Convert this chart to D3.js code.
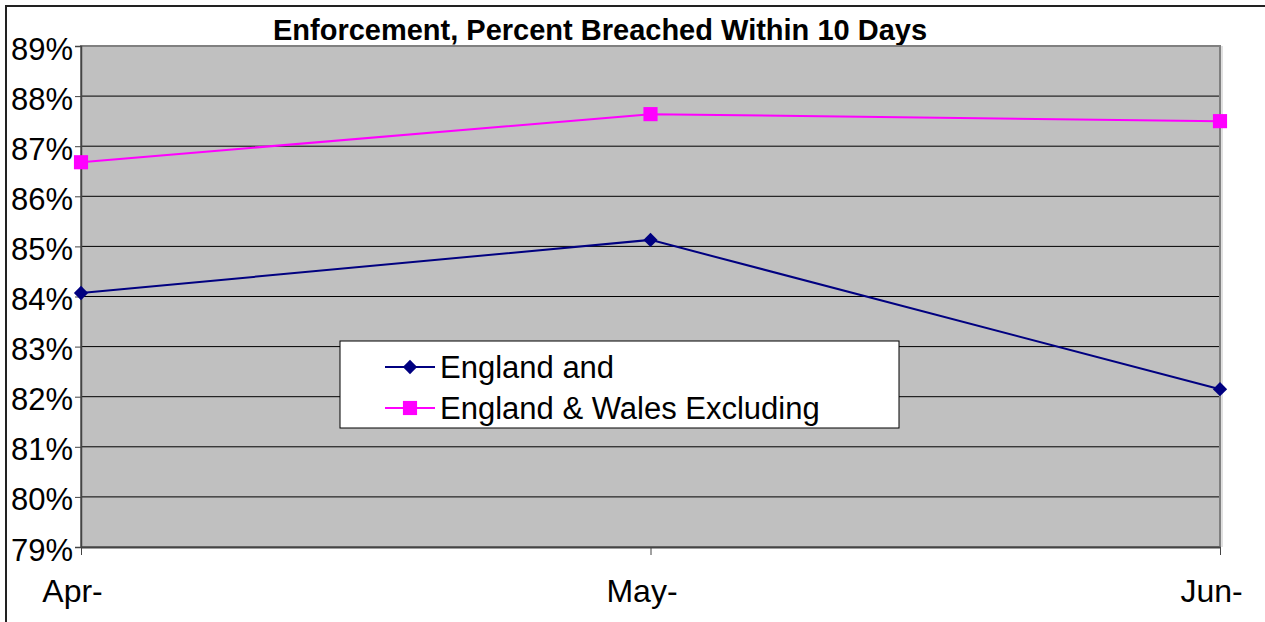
<!DOCTYPE html>
<meta charset="utf-8">
<html>
<head>
<style>
  body { margin: 0; background: #fff; }
  text { font-family: Arial, "Liberation Sans", sans-serif; }
</style>
</head>
<body>
<div id="chart"></div>
<script src="https://d3js.org/d3.v7.min.js"></script>
<script>

// data
var months = ["Apr-", "May-", "Jun-"];
var englandAnd = [84.07, 85.13, 82.15];
var englandWalesExcl = [86.68, 87.64, 87.5];
var seriesNames = ["England and", "England & Wales Excluding"];
var yTicks = [79, 80, 81, 82, 83, 84, 85, 86, 87, 88, 89];

var W = 1265, H = 622;
var margin = {top: 46, right: 45, bottom: 75, left: 81},
    width = W - margin.left - margin.right,
    height = H - margin.top - margin.bottom;

var svg = d3.select("#chart")
  .append("svg")
    .attr("width", W)
    .attr("height", H);

// outer chart frame (runs off the right and bottom edge)
svg.append("rect")
  .attr("x", 6).attr("y", 6)
  .attr("width", W + 10).attr("height", H + 10)
  .attr("fill", "none")
  .attr("stroke", "#222")
  .attr("stroke-width", 2);

svg.append("text")
  .attr("x", 600)
  .attr("y", 40)
  .attr("text-anchor", "middle")
  .attr("font-size", "29px")
  .attr("font-weight", "bold")
  .text("Enforcement, Percent Breached Within 10 Days");

var g = svg.append("g")
  .attr("transform", "translate(" + margin.left + "," + margin.top + ")");

var x = d3.scalePoint()
  .domain(months)
  .range([0, width]);

var y = d3.scaleLinear()
  .domain([79, 89])
  .range([height, 0]);

// plot area
g.append("rect")
  .attr("width", width)
  .attr("height", height)
  .attr("fill", "#c0c0c0");

// gridlines
g.selectAll(".grid")
  .data(yTicks.slice(1))
  .enter().append("line")
    .attr("x1", 0).attr("x2", width)
    .attr("y1", function(d) { return y(d); })
    .attr("y2", function(d) { return y(d); })
    .attr("stroke", "#000")
    .attr("stroke-width", 1);

// right border with shadow
g.append("line")
  .attr("x1", width + 2).attr("x2", width + 2)
  .attr("y1", 0).attr("y2", height)
  .attr("stroke", "#e0e0e0").attr("stroke-width", 2);
g.append("rect")
  .attr("width", width)
  .attr("height", height)
  .attr("fill", "none")
  .attr("stroke", "#808080")
  .attr("stroke-width", 2);

// y axis
var yAxis = g.append("g")
  .call(d3.axisLeft(y).tickValues(yTicks).tickSize(6).tickFormat(function(d) { return d + "%"; }));
yAxis.select(".domain").attr("stroke", "#444").attr("stroke-width", 1.5);
yAxis.selectAll(".tick line").attr("stroke", "#444");
yAxis.selectAll("text")
  .attr("font-size", "31px")
  .attr("fill", "#000")
  .attr("x", -8)
  .attr("dy", "0.42em");

// x axis
var xAxis = g.append("g")
  .attr("transform", "translate(0," + height + ")")
  .call(d3.axisBottom(x).tickSize(8).tickSizeOuter(0));
xAxis.select(".domain").attr("stroke", "#444").attr("stroke-width", 2);
xAxis.selectAll(".tick line").attr("stroke", "#444");
xAxis.selectAll("text")
  .attr("font-size", "32px")
  .attr("fill", "#000")
  .attr("x", -9)
  .attr("y", 26)
  .attr("dy", "0.9em");

var line = d3.line()
  .x(function(d, i) { return x(months[i]); })
  .y(function(d) { return y(d); });

var navy = "#000080", pink = "#ff00ff";

g.append("path")
  .datum(englandAnd)
  .attr("d", line)
  .attr("fill", "none")
  .attr("stroke", navy)
  .attr("stroke-width", 2);

g.append("path")
  .datum(englandWalesExcl)
  .attr("d", line)
  .attr("fill", "none")
  .attr("stroke", pink)
  .attr("stroke-width", 2);

var diamond = d3.symbol().type(d3.symbolDiamond2).size(130);
var square = d3.symbol().type(d3.symbolSquare).size(200);

g.selectAll(".dia")
  .data(englandAnd)
  .enter().append("path")
    .attr("d", diamond)
    .attr("transform", function(d, i) { return "translate(" + x(months[i]) + "," + y(d) + ")"; })
    .attr("fill", navy);

g.selectAll(".sq")
  .data(englandWalesExcl)
  .enter().append("path")
    .attr("d", square)
    .attr("transform", function(d, i) { return "translate(" + x(months[i]) + "," + y(d) + ")"; })
    .attr("fill", pink);

// legend
var legend = svg.append("g").attr("transform", "translate(340,341)");
legend.append("rect")
  .attr("width", 559).attr("height", 87)
  .attr("fill", "#fff")
  .attr("stroke", "#000")
  .attr("stroke-width", 1);

var items = [
  {name: seriesNames[0], color: navy, sym: diamond},
  {name: seriesNames[1], color: pink, sym: square}
];
var li = legend.selectAll(".item")
  .data(items)
  .enter().append("g")
    .attr("transform", function(d, i) { return "translate(0," + (26 + i * 41) + ")"; });
li.append("line")
  .attr("x1", 45).attr("x2", 95)
  .attr("stroke", function(d) { return d.color; })
  .attr("stroke-width", 2);
li.append("path")
  .attr("d", function(d) { return d.sym(); })
  .attr("transform", "translate(70,0)")
  .attr("fill", function(d) { return d.color; });
li.append("text")
  .attr("x", 100)
  .attr("dy", "0.36em")
  .attr("font-size", "31px")
  .text(function(d) { return d.name; });

</script>
</body>
</html>
